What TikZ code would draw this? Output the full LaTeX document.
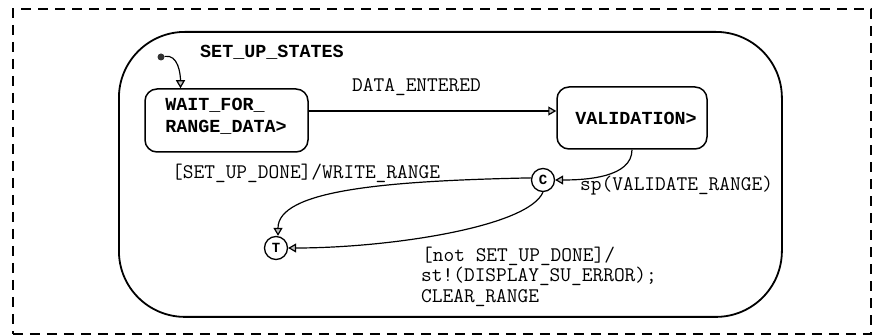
\documentclass[tikz,border=0pt]{standalone}
\usepackage{fontspec}
\newfontfamily\boldmono{Liberation Mono}
\usetikzlibrary{arrows.meta}
\begin{document}
\begin{tikzpicture}[x=1pt,y=-1pt,
  lbl/.style={font=\ttfamily\fontsize{20.8}{18.5}\selectfont, inner sep=0pt, anchor=west, align=left},
  blbl/.style={font=\boldmono\bfseries\fontsize{18.4}{21.5}\selectfont, inner sep=0pt, align=left},
  statebox/.style={draw, line width=1.5pt, rounded corners=12pt, inner sep=0pt},
  conn/.style={draw, line width=1.3pt, circle, inner sep=0pt, minimum size=23pt, font=\boldmono\bfseries\fontsize{14}{14}\selectfont},
  tr/.style={line width=1.2pt, -{Triangle[width=9pt,length=8pt,fill=gray!50]}}
]
\useasboundingbox (0,0) rectangle (879,336);
% outer dashed frame
\node[draw, line width=1.6pt, dash pattern=on 10pt off 7pt, anchor=north west, inner sep=0pt,
      minimum width=858pt, minimum height=325pt] (frame) at (12,8) {};
% SET_UP_STATES
\node[draw, line width=1.8pt, rounded corners=66pt, anchor=north west, inner sep=0pt,
      minimum width=663pt, minimum height=285pt] (setup) at (118,31) {};
\node[blbl, anchor=west] (setuplbl) at (200,52) {SET\_UP\_STATES};
% states
\node[statebox, minimum width=163pt, minimum height=63pt] (wait) at (226.5,120.5) {};
\node[blbl] (waitlbl) at (226,116.5) {WAIT\_FOR\_\\RANGE\_DATA>};
\node[statebox, minimum width=150pt, minimum height=62pt] (val) at (632,118) {};
\node[blbl] (vallbl) at (636,118) {VALIDATION>};
% connectors
\node[conn] (c) at (543,180) {C};
\node[conn] (t) at (276,248) {T};
% initial
\node[circle, fill=black!80, inner sep=0pt, minimum size=7pt] (init) at (161,57) {};
\draw[tr] (init) to[out=10,in=90] ([xshift=-46pt]wait.north);
% transitions
\draw[tr] ([yshift=9.5pt]wait.east) -- ([yshift=9.5pt]wait.east -| val.west);
\draw[tr] (val.south) .. controls +(0,28) and +(30,0) .. (c.east);
\draw[tr] (c.170) .. controls +(-150,3) and +(0,-45) .. ([xshift=2pt]t.north);
\draw[tr] (c.south) .. controls +(-15,35) and +(100,0) .. (t.east);
% labels
\node[lbl] (l1) at (352,87) {DATA\_ENTERED};
\node[lbl] (l2) at (172,173) {[SET\_UP\_DONE]/WRITE\_RANGE};
\node[lbl] (l3) at (580,186) {sp(VALIDATE\_RANGE)};
\node[lbl] (l4a) at (422,256.5) {[not SET\_UP\_DONE]/};
\node[lbl] (l4b) at (421,276.5) {st!(DISPLAY\_SU\_ERROR);};
\node[lbl] (l4c) at (421,298) {CLEAR\_RANGE};
\end{tikzpicture}
\end{document}
